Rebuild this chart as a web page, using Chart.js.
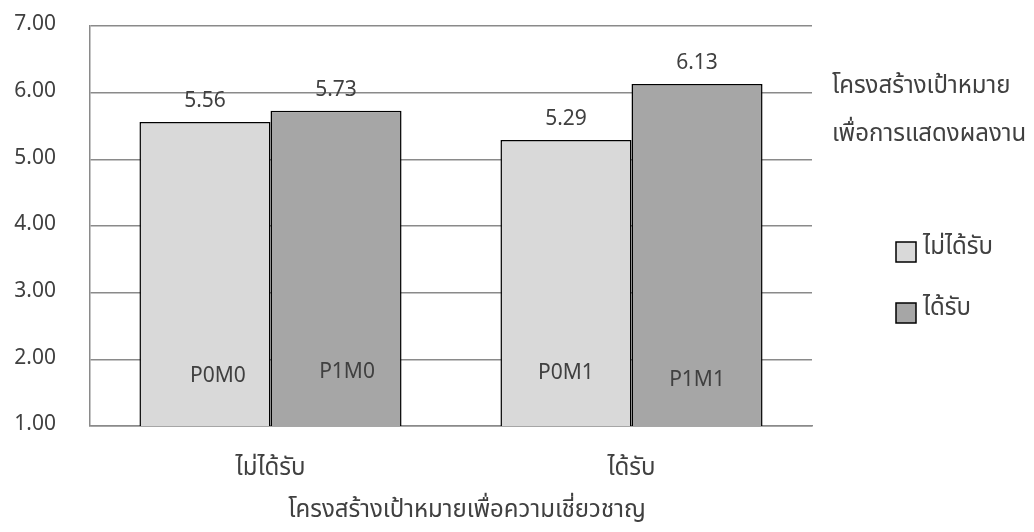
<!DOCTYPE html>
<html>
<head>
<meta charset="utf-8">
<script src="https://cdn.jsdelivr.net/npm/chart.js@4.4.1/dist/chart.umd.min.js"></script>
<style>
  html, body { margin: 0; padding: 0; background: #ffffff; }
  #wrap { width: 1034px; height: 532px; }
</style>
</head>
<body>
<div id="wrap"><canvas id="c" width="1034" height="532"></canvas></div>
<script>
// Mastery-goal structure groups (x axis)
const categories = ['ไม่ได้รับ', 'ได้รับ'];
// Performance-goal structure series
const seriesNames = ['ไม่ได้รับ', 'ได้รับ'];
const notReceived = [5.56, 5.29];
const received = [5.73, 6.13];
// Cell names written inside each bar
const cellNamesNotReceived = ['P0M0', 'P0M1'];
const cellNamesReceived = ['P1M0', 'P1M1'];
const yTicks = [1, 2, 3, 4, 5, 6, 7];

const xTitle = 'โครงสร้างเป้าหมายเพื่อความเชี่ยวชาญ';
const legendTitle = ['โครงสร้างเป้าหมาย', 'เพื่อการแสดงผลงาน'];

const FONT = '"Noto Sans Thai", "Leelawadee UI", Tahoma, "Noto Sans", "DejaVu Sans", sans-serif';
const NUM_SIZE = 21;
const THAI_SIZE = 24;
const TEXT = '#404040';
const GRID = '#8a8a8a';

// Value labels above bars and cell names inside bars
const barTextPlugin = {
  id: 'barText',
  afterDatasetsDraw(chart) {
    const ctx = chart.ctx;
    const floor = chart.scales.y.bottom;
    ctx.save();
    ctx.fillStyle = TEXT;
    ctx.font = NUM_SIZE + 'px ' + FONT;
    ctx.textAlign = 'center';
    ctx.textBaseline = 'middle';
    const names = [cellNamesNotReceived, cellNamesReceived];
    const nameShift = [[13, 0], [11, 0]];
    const nameLift = [[48, 51], [52, 44]];
    chart.data.datasets.forEach((ds, di) => {
      const meta = chart.getDatasetMeta(di);
      meta.data.forEach((bar, i) => {
        ctx.fillText(ds.data[i].toFixed(2), bar.x, bar.y - 19);
        ctx.fillText(names[di][i], bar.x + nameShift[di][i], floor - nameLift[di][i]);
      });
    });
    ctx.restore();
  }
};

// Legend on the right with a two-line title
const sideLegendPlugin = {
  id: 'sideLegend',
  afterDraw(chart) {
    const ctx = chart.ctx;
    ctx.save();
    ctx.fillStyle = TEXT;
    ctx.font = THAI_SIZE + 'px ' + FONT;
    ctx.textAlign = 'left';
    ctx.textBaseline = 'middle';
    ctx.fillText(legendTitle[0], 832, 88);
    ctx.fillText(legendTitle[1], 832, 136);
    chart.data.datasets.forEach((ds, di) => {
      const cy = 252 + di * 61;
      ctx.fillStyle = ds.backgroundColor;
      ctx.fillRect(896, cy - 10, 20, 20);
      ctx.strokeStyle = '#000000';
      ctx.lineWidth = 1.5;
      ctx.strokeRect(896, cy - 10, 20, 20);
      ctx.fillStyle = TEXT;
      ctx.fillText(ds.label, 923, cy - 3);
    });
    ctx.restore();
  }
};

// x-axis title, centred under the two groups
const xTitlePlugin = {
  id: 'xTitle',
  afterDraw(chart) {
    const ctx = chart.ctx;
    ctx.save();
    ctx.fillStyle = TEXT;
    ctx.font = THAI_SIZE + 'px ' + FONT;
    ctx.textAlign = 'center';
    ctx.textBaseline = 'middle';
    ctx.fillText(xTitle, 467, 512);
    ctx.restore();
  }
};

new Chart(document.getElementById('c'), {
  type: 'bar',
  data: {
    labels: categories,
    datasets: [
      { label: seriesNames[0], data: notReceived, backgroundColor: '#d9d9d9', borderColor: '#000000', borderWidth: 1.5 },
      { label: seriesNames[1], data: received, backgroundColor: '#a6a6a6', borderColor: '#000000', borderWidth: 1.5 }
    ]
  },
  options: {
    responsive: false,
    animation: false,
    layout: { padding: { top: 26, right: 222, left: 0, bottom: 0 } },
    datasets: { bar: { categoryPercentage: 0.726, barPercentage: 1.0 } },
    plugins: {
      legend: { display: false },
      tooltip: { enabled: false }
    },
    scales: {
      x: {
        grid: { display: false, drawTicks: false },
        border: { display: true, color: GRID, width: 1.5 },
        ticks: { color: TEXT, font: { family: FONT, size: THAI_SIZE }, padding: 30 },
        afterFit(scale) { scale.height = 106; }
      },
      y: {
        min: 1,
        max: 7,
        afterBuildTicks(scale) { scale.ticks = yTicks.map(v => ({ value: v })); },
        grid: { color: GRID, lineWidth: 1.5, drawTicks: false },
        border: { display: true, color: GRID, width: 1.5 },
        ticks: {
          color: TEXT,
          font: { family: FONT, size: NUM_SIZE },
          padding: 34,
          callback: v => Number(v).toFixed(2)
        },
        afterFit(scale) {
          scale.width = 90;
          scale.paddingTop = 0;
          scale.paddingBottom = 0;
        }
      }
    }
  },
  plugins: [barTextPlugin, sideLegendPlugin, xTitlePlugin]
});
</script>
</body>
</html>
